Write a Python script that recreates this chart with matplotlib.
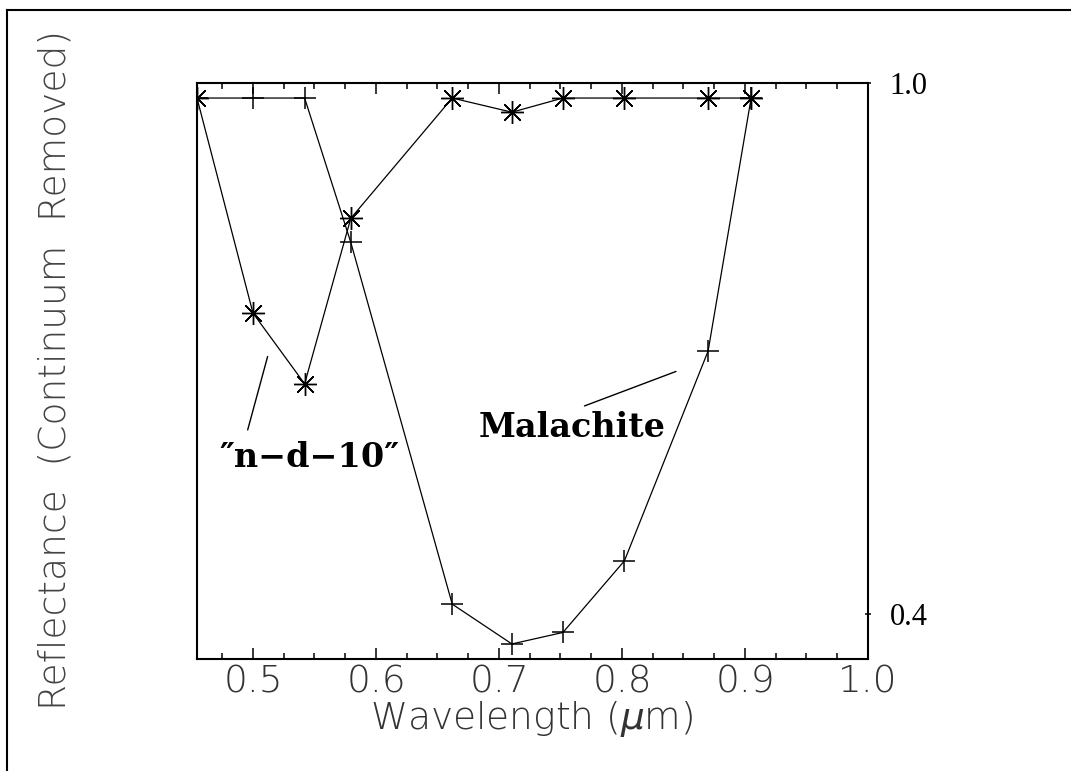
import matplotlib
matplotlib.use("Agg")
import matplotlib.pyplot as plt
from matplotlib.lines import Line2D
import numpy as np

# Band centres (um) and continuum-removed reflectance for each spectrum
wavelength = [0.4545, 0.500, 0.542, 0.5795, 0.662, 0.7105, 0.752, 0.802, 0.870, 0.905]
malachite = [0.983, 0.983, 0.983, 0.820, 0.411, 0.366, 0.379, 0.460, 0.697, 0.983]
nd10 = [0.983, 0.740, 0.660, 0.847, 0.983, 0.967, 0.983, 0.983, 0.983, 0.983]

x_major = [0.5, 0.6, 0.7, 0.8, 0.9, 1.0]
x_labels = ["0.5", "0.6", "0.7", "0.8", "0.9", "1.0"]
y_ticks = [0.4, 1.0]
y_labels = ["0.4", "1.0"]

# thin italic mu in the axis title
plt.rcParams["mathtext.fontset"] = "custom"
plt.rcParams["mathtext.rm"] = "DejaVu Sans:light"
plt.rcParams["mathtext.it"] = "DejaVu Sans:italic:light"

W, H = 1071, 771
fig = plt.figure(figsize=(W / 100, H / 100), dpi=100)

# page frame (left and top edges only)
fig.add_artist(Line2D([7 / W, 7 / W], [0, 1 - 10 / H], color="black", lw=1.5))
fig.add_artist(Line2D([7 / W, 1], [1 - 10 / H, 1 - 10 / H], color="black", lw=1.5))

ax = fig.add_axes([197 / W, 1 - 659 / H, (868 - 197) / W, (659 - 83) / H])
ax.set_xlim(0.4545, 1.0)
ax.set_ylim(0.349, 1.0)

for s in ax.spines.values():
    s.set_linewidth(1.5)

star = (8, 2, 0)
ax.plot(wavelength, malachite, color="black", lw=0.9, marker="+",
        markersize=16.5, markeredgewidth=1.1)
ax.plot(wavelength, nd10, color="black", lw=0.9, marker=star,
        markersize=16.5, markeredgewidth=1.0)

# x axis: inward ticks on bottom and top
ax.set_xticks(x_major)
ax.set_xticks(np.arange(0.475, 1.0, 0.025), minor=True)
ax.set_xticklabels(x_labels, fontsize=27, color="#333333", fontfamily="DejaVu Sans",
                   fontweight="light")
ax.tick_params(axis="x", which="major", direction="in", length=8, width=1.1,
               top=True, pad=4)
ax.tick_params(axis="x", which="minor", direction="in", length=4.3, width=1.1,
               top=True)

# y axis: only two ticks, labelled on the right
ax.yaxis.tick_right()
ax.set_yticks(y_ticks)
ax.set_yticklabels(y_labels, fontsize=22, fontfamily="Liberation Serif")
ax.tick_params(axis="y", direction="inout", length=5, width=1.1, pad=13,
               left=False, right=True)

fig.text(532 / W, 1 - 729 / H, r"Wavelength ($\mu$m)", ha="center", va="baseline",
         fontsize=27, color="#333333", fontfamily="DejaVu Sans", fontweight="light")
fig.text(55 / W, 1 - 370 / H, "Reflectance  (Continuum  Removed)", rotation=90,
         ha="center", va="center", fontsize=27, color="#444444",
         fontfamily="DejaVu Sans", fontweight="light")

# curve labels with leader lines
ax.text(0.5455, 0.566, "\u2033n\u2212d\u221210\u2033", ha="center", va="baseline",
        fontsize=24, fontweight="bold", fontfamily="DejaVu Serif")
ax.annotate("", xy=(0.5119, 0.6908), xytext=(0.4957, 0.6079),
            arrowprops=dict(arrowstyle="-", color="black", lw=1.0, shrinkA=0, shrinkB=0))
ax.text(0.7593, 0.600, "Malachite", ha="center", va="baseline",
        fontsize=24, fontweight="bold", fontfamily="DejaVu Serif")
ax.annotate("", xy=(0.8439, 0.674), xytext=(0.7695, 0.635),
            arrowprops=dict(arrowstyle="-", color="black", lw=1.0, shrinkA=0, shrinkB=0))

fig.savefig("out.png", dpi=100)
